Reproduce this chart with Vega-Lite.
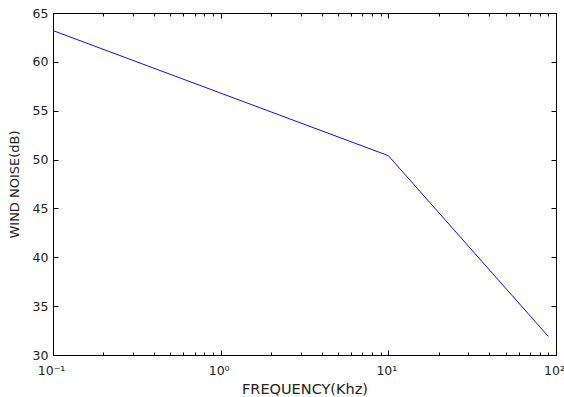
{
  "$schema": "https://vega.github.io/schema/vega-lite/v6.json",
  "width": 503,
  "height": 342,
  "autosize": "none",
  "padding": {"left": 53, "top": 13, "right": 8, "bottom": 42},
  "background": "white",
  "config": {
    "view": {"stroke": "black", "strokeWidth": 1},
    "axis": {
      "labelFont": "DejaVu Sans",
      "titleFont": "DejaVu Sans",
      "labelFontSize": 12.5,
      "titleFontSize": 13.5,
      "titleFontWeight": "normal",
      "labelColor": "#222",
      "titleColor": "#222",
      "domainColor": "black",
      "tickColor": "black",
      "tickWidth": 1,
      "grid": false,
      "labelOverlap": false,
      "labelFlush": false
    }
  },
  "data": {
    "values": [
      {"freq": 0.1, "noise": 63.2},
      {"freq": 10, "noise": 50.4},
      {"freq": 90, "noise": 31.9}
    ]
  },
  "layer": [
    {
      "mark": {"type": "line", "color": "#1010d8", "strokeWidth": 1},
      "encoding": {
        "x": {
          "field": "freq", "type": "quantitative",
          "scale": {"type": "log", "domain": [0.1, 100], "nice": false},
          "axis": {
            "orient": "bottom",
            "title": "FREQUENCY(Khz)",
            "titleFontSize": 14.5,
            "values": [0.1, 1, 10, 100],
            "labelExpr": "datum.value == 0.1 ? '10⁻¹' : datum.value == 1 ? '10⁰' : datum.value == 10 ? '10¹' : '10²'",
            "tickSize": -5,
            "labelPadding": 14,
            "labelOffset": -2,
            "titlePadding": 6
          }
        },
        "y": {
          "field": "noise", "type": "quantitative",
          "scale": {"domain": [30, 65], "nice": false, "zero": false},
          "axis": {
            "orient": "left",
            "title": "WIND NOISE(dB)",
            "titleFontSize": 13,
            "values": [30, 35, 40, 45, 50, 55, 60, 65],
            "tickSize": -5,
            "labelPadding": 10,
            "titlePadding": 11
          }
        }
      }
    },
    {
      "mark": {"type": "line", "strokeOpacity": 0},
      "encoding": {
        "x": {
          "field": "freq", "type": "quantitative",
          "axis": {
            "orient": "bottom",
            "title": null,
            "labels": false,
            "domain": false,
            "values": [0.2, 0.3, 0.4, 0.5, 0.6, 0.7, 0.8, 0.9, 2, 3, 4, 5, 6, 7, 8, 9, 20, 30, 40, 50, 60, 70, 80, 90],
            "tickSize": -3
          }
        },
        "y": {"field": "noise", "type": "quantitative", "axis": null}
      }
    },
    {
      "mark": {"type": "line", "strokeOpacity": 0},
      "encoding": {
        "x": {
          "field": "freq", "type": "quantitative",
          "axis": {
            "orient": "top",
            "title": null,
            "labels": false,
            "values": [0.1, 1, 10, 100],
            "tickSize": -5
          }
        },
        "y": {
          "field": "noise", "type": "quantitative",
          "axis": {
            "orient": "right",
            "title": null,
            "labels": false,
            "values": [30, 35, 40, 45, 50, 55, 60, 65],
            "tickSize": -5
          }
        }
      }
    },
    {
      "mark": {"type": "line", "strokeOpacity": 0},
      "encoding": {
        "x": {
          "field": "freq", "type": "quantitative",
          "axis": {
            "orient": "top",
            "title": null,
            "labels": false,
            "domain": false,
            "values": [0.2, 0.3, 0.4, 0.5, 0.6, 0.7, 0.8, 0.9, 2, 3, 4, 5, 6, 7, 8, 9, 20, 30, 40, 50, 60, 70, 80, 90],
            "tickSize": -3
          }
        },
        "y": {"field": "noise", "type": "quantitative", "axis": null}
      }
    }
  ],
  "resolve": {"axis": {"x": "independent", "y": "independent"}}
}
